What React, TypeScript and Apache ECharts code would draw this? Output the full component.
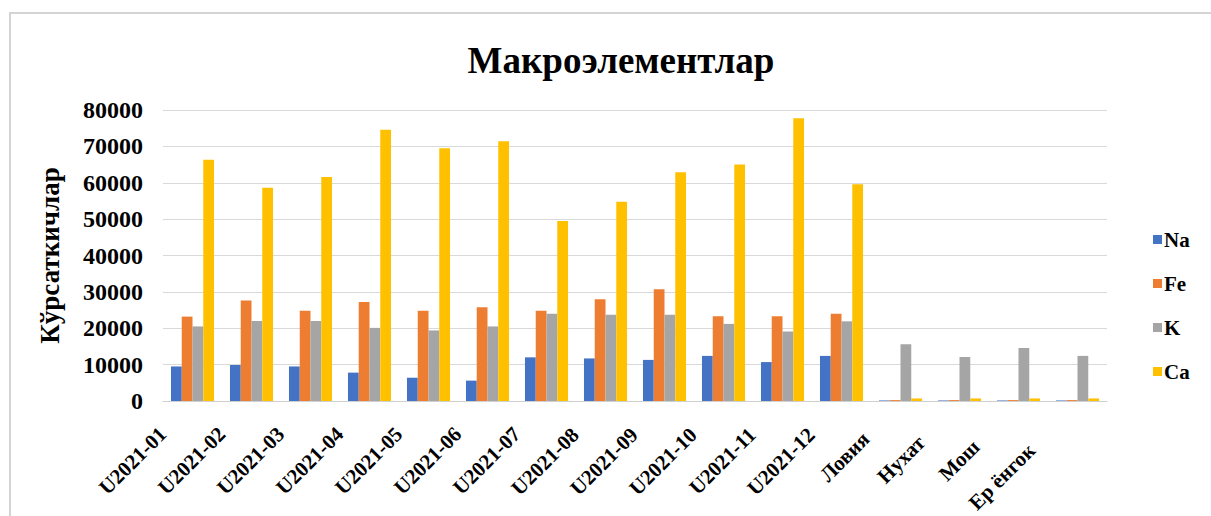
import React, { useEffect, useRef } from "react";
import * as echarts from "echarts";

const categories = [
  "U2021-01", "U2021-02", "U2021-03", "U2021-04", "U2021-05", "U2021-06",
  "U2021-07", "U2021-08", "U2021-09", "U2021-10", "U2021-11", "U2021-12",
  "Ловия", "Нухат", "Мош", "Ер ёнгок",
];
const naValues = [9500, 9900, 9500, 7800, 6400, 5600, 12000, 11700, 11300, 12400, 10700, 12400, 150, 150, 150, 150];
const feValues = [23200, 27600, 24800, 27200, 24800, 25800, 24800, 28000, 30700, 23300, 23300, 24000, 250, 250, 250, 250];
const kValues = [20500, 22000, 22000, 20100, 19400, 20500, 24000, 23700, 23700, 21200, 19100, 21900, 15600, 12100, 14600, 12400];
const caValues = [66300, 58600, 61600, 74600, 69500, 71400, 49500, 54800, 62900, 65000, 77700, 59600, 700, 700, 700, 700];
const seriesNames = ["Na", "Fe", "K", "Ca"];
const seriesColors = ["#4472C4", "#ED7D31", "#A5A5A5", "#FFC000"];
const yTicks = { min: 0, max: 80000, interval: 10000 };

const FONT = "'Liberation Serif', 'Times New Roman', serif";

// label padding [top, right, bottom, left] to mimic the spreadsheet's rotated-label placement
const labelPads: number[][] = [
  [0, 42, 0, 0], [0, 42, 0, 0], [0, 42, 0, 0], [-1, 42, 0, 0], [-1, 42, 0, 0], [-1, 42, 0, 0],
  [-2, 42, 0, 0], [-2, 43, 0, 0], [-3, 43, 0, 0], [-3, 43, 0, 0], [-4, 43, 0, 0], [-5, 43, 0, 0],
  [-11, 49, 0, 0], [-16, 54, 0, 0], [-22, 60, 0, 0], [-27, 65, 0, 0],
];

export default function App() {
  const ref = useRef<HTMLDivElement>(null);
  useEffect(() => {
    if (!ref.current) return;
    const chart = echarts.init(ref.current, undefined, { renderer: "svg" });
    const values = [naValues, feValues, kValues, caValues];
    chart.setOption({
      animation: false,
      backgroundColor: "#ffffff",
      title: {
        text: "Макроэлементлар",
        left: 616,
        top: 37,
        textAlign: "center",
        textStyle: { fontFamily: FONT, fontWeight: "bold", fontSize: 37, color: "#000" },
      },
      graphic: [
        { type: "line", shape: { x1: 9, y1: 13, x2: 1211, y2: 13 }, style: { stroke: "#d4d4d4", lineWidth: 2 } },
        { type: "line", shape: { x1: 10, y1: 12, x2: 10, y2: 516 }, style: { stroke: "#d4d4d4", lineWidth: 2 } },
      ],
      legend: {
        orient: "vertical",
        left: 1148,
        top: 224,
        itemWidth: 9,
        itemHeight: 9,
        itemGap: 23,
        icon: "rect",
        textStyle: { fontFamily: FONT, fontWeight: "bold", fontSize: 21, color: "#000", padding: [0, 0, 0, -3] },
        data: seriesNames,
      },
      grid: { left: 163, right: 104, top: 110, bottom: 115, containLabel: false },
      xAxis: {
        type: "category",
        data: categories.map((c, i) => ({ value: c, textStyle: { padding: labelPads[i] } })),
        axisLine: { lineStyle: { color: "#d0d0d0", width: 1 } },
        axisTick: { show: false },
        axisLabel: {
          rotate: 45,
          interval: 0,
          margin: 0,
          fontFamily: FONT,
          fontWeight: "bold",
          fontSize: 21,
          color: "#000",
        },
      },
      yAxis: {
        type: "value",
        min: yTicks.min,
        max: yTicks.max,
        interval: yTicks.interval,
        name: "Кўрсаткичлар",
        nameLocation: "middle",
        nameRotate: 90,
        nameGap: 100,
        nameTextStyle: { fontFamily: FONT, fontWeight: "bold", fontSize: 27, color: "#000" },
        axisLine: { show: false },
        axisTick: { show: false },
        splitLine: { lineStyle: { color: "#d9d9d9", width: 1 } },
        axisLabel: {
          margin: 20,
          fontFamily: FONT,
          fontWeight: "bold",
          fontSize: 24,
          color: "#000",
          formatter: (v: number) => String(v),
        },
      },
      series: seriesNames.map((name, i) => ({
        name,
        type: "bar",
        data: values[i],
        barGap: "0%",
        barCategoryGap: "27%",
        itemStyle: { color: seriesColors[i] },
      })),
    });
    return () => chart.dispose();
  }, []);
  return (
    <div
      ref={ref}
      style={{ position: "fixed", left: 0, top: 0, width: 1211, height: 516 }}
    />
  );
}
